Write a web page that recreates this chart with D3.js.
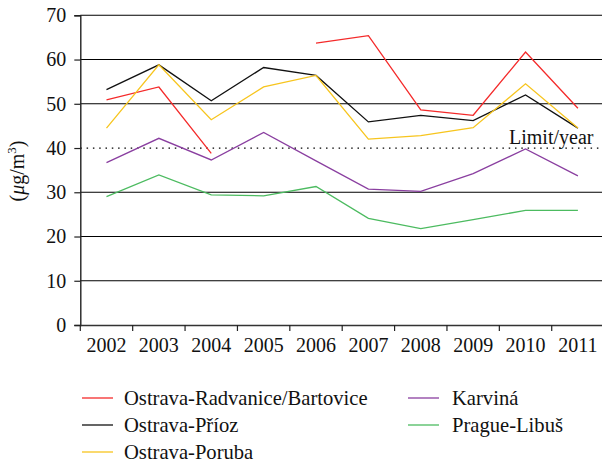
<!DOCTYPE html>
<html>
<head>
<meta charset="utf-8">
<script src="https://cdn.jsdelivr.net/npm/d3@7/dist/d3.min.js"></script>
<style>
body { margin: 0; background: #fff; }
svg text { font-family: "Liberation Serif", "DejaVu Serif", serif; fill: #111; }
</style>
</head>
<body>
<svg id="chart" width="602" height="464"></svg>
<script>
const years = ["2002","2003","2004","2005","2006","2007","2008","2009","2010","2011"];
const yTicks = [0,10,20,30,40,50,60,70];
const limitValue = 40;
const limitLabel = "Limit/year";
const seriesNames = ["Ostrava-Radvanice/Bartovice","Ostrava-Příoz","Ostrava-Poruba","Karviná","Prague-Libuš"];
const radvanice = [50.9, 53.8, 38.8, null, 63.7, 65.4, 48.6, 47.4, 61.7, 49.0];
const priroz    = [53.2, 58.8, 50.7, 58.2, 56.4, 45.9, 47.4, 46.2, 52.0, 44.5];
const poruba    = [44.5, 58.8, 46.4, 53.8, 56.4, 42.0, 42.8, 44.6, 54.5, 44.5];
const karvina   = [36.7, 42.2, 37.3, 43.5, 37.1, 30.7, 30.2, 34.2, 39.8, 33.7];
const libus     = [29.0, 33.9, 29.4, 29.2, 31.3, 24.1, 21.8, 23.8, 25.9, 25.9];
const colors = ["#f42a2a","#111111","#f7c51e","#8a3fa0","#4cbb60"];

const seriesData = [radvanice, priroz, poruba, karvina, libus];
const svg = d3.select("#chart");

const x = d3.scaleBand().domain(years).range([80.3, 604.1]);
const y = d3.scaleLinear().domain([0,70]).range([325, 15.3]);
const xl = 80.3, xr = 604;

// gridlines
svg.append("g").selectAll("line").data(yTicks.filter(t => t !== limitValue && t !== 0)).join("line")
  .attr("x1", xl).attr("x2", xr)
  .attr("y1", d => y(d)).attr("y2", d => y(d))
  .attr("stroke", "#000").attr("stroke-width", 1.1);

// limit dotted line
svg.append("line")
  .attr("x1", xl).attr("x2", xr)
  .attr("y1", y(limitValue)).attr("y2", y(limitValue))
  .attr("stroke", "#000").attr("stroke-width", 1.2)
  .attr("stroke-dasharray", "1.5,4.8");

svg.append("text").attr("x", 509).attr("y", y(limitValue) - 4.5)
  .attr("font-size", 20).text(limitLabel);

// axes
const yAxis = d3.axisLeft(y).tickValues(yTicks).tickSize(6).tickPadding(8);
const gy = svg.append("g").attr("transform", `translate(${xl},0)`).call(yAxis);
gy.select(".domain").attr("stroke", "#222").attr("stroke-width", 1.4);
gy.selectAll(".tick line").attr("stroke", "#222").attr("stroke-width", 1.2);
gy.selectAll(".tick text").attr("font-size", 20).attr("fill", "#111");

const xAxis = d3.axisBottom(x).tickSize(0).tickPadding(13);
const gx = svg.append("g").attr("transform", `translate(0,${y(0)})`).call(xAxis);
gx.select(".domain").attr("stroke", "#333").attr("stroke-width", 1.4);
gx.selectAll(".tick text").attr("font-size", 20).attr("fill", "#111");
// tick marks at band boundaries
svg.append("g").selectAll("line").data(years).join("line")
  .attr("x1", d => x(d)).attr("x2", d => x(d))
  .attr("y1", y(0)).attr("y2", y(0) + 6)
  .attr("stroke", "#222").attr("stroke-width", 1.2);

// y label
const yl = svg.append("text")
  .attr("transform", `translate(24,171) rotate(-90)`)
  .attr("text-anchor", "middle").attr("font-size", 20);
yl.append("tspan").text("(");
yl.append("tspan").attr("font-style", "italic").text("μ");
yl.append("tspan").text("g/m");
yl.append("tspan").attr("font-size", 13).attr("dy", -8).text("3");
yl.append("tspan").attr("dy", 8).text(")");

// lines
const line = d3.line()
  .defined(d => d.v !== null)
  .x(d => x(d.year) + x.bandwidth() / 2)
  .y(d => y(d.v));

seriesData.forEach((arr, i) => {
  const pts = years.map((yr, j) => ({year: yr, v: arr[j]}));
  svg.append("path").datum(pts)
    .attr("fill", "none").attr("stroke", colors[i]).attr("stroke-width", 1.3)
    .attr("d", line);
});

// legend
const legendPos = [
  {lx: 82, tx: 124, ty: 398},
  {lx: 82, tx: 124, ty: 425},
  {lx: 82, tx: 124, ty: 452},
  {lx: 408, tx: 452, ty: 398},
  {lx: 408, tx: 452, ty: 425}
];
seriesNames.forEach((name, i) => {
  const p = legendPos[i];
  svg.append("line").attr("x1", p.lx).attr("x2", p.lx + 31)
    .attr("y1", p.ty).attr("y2", p.ty)
    .attr("stroke", colors[i]).attr("stroke-width", 1.3);
  svg.append("text").attr("x", p.tx).attr("y", p.ty + 7)
    .attr("font-size", 20.6).text(name);
});
</script>
</body>
</html>
